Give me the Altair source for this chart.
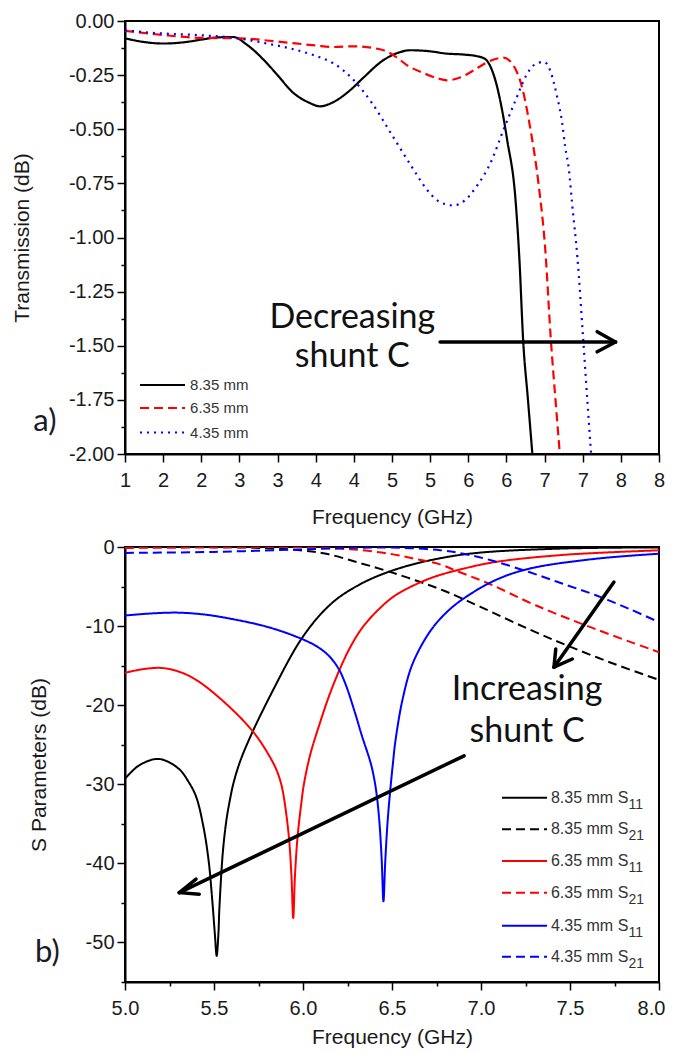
import altair as alt
import pandas as pd

# ---------------- Panel a) : Transmission (dB) vs Frequency (GHz) ----------------
a_series = ["8.35 mm", "6.35 mm", "4.35 mm"]

a_f_835 = [1.0, 1.25, 1.5, 1.8, 2.0, 2.2, 2.42, 2.6, 2.86, 3.0, 3.2, 3.4, 3.56, 3.7, 3.95, 4.13, 4.39,
           4.57, 4.74, 5.0, 5.2, 5.44, 5.62, 5.72, 5.79, 5.86, 5.92, 6.01, 6.12, 6.17, 6.22, 6.28, 6.34]
a_t_835 = [-0.080, -0.097, -0.104, -0.097, -0.086, -0.076, -0.074, -0.11, -0.195, -0.25, -0.33, -0.375,
           -0.394, -0.38, -0.32, -0.26, -0.18, -0.148, -0.135, -0.14, -0.15, -0.155, -0.163, -0.175,
           -0.21, -0.28, -0.37, -0.55, -0.83, -1.1, -1.48, -1.74, -2.0]

a_f_635 = [1.0, 1.5, 2.0, 2.5, 3.0, 3.5, 3.73, 4.0, 4.39, 4.55, 4.7, 4.91, 5.1, 5.22, 5.4, 5.57, 5.75,
           5.88, 5.96, 6.1, 6.2, 6.31, 6.42, 6.51, 6.58, 6.65, 6.70]
a_t_635 = [-0.045, -0.065, -0.078, -0.080, -0.095, -0.113, -0.12, -0.117, -0.135, -0.165, -0.205, -0.24,
           -0.265, -0.274, -0.26, -0.228, -0.19, -0.173, -0.169, -0.21, -0.30, -0.49, -0.75, -1.06,
           -1.46, -1.78, -2.0]

a_f_435 = [1.0, 1.33, 2.0, 2.42, 2.86, 3.17, 3.45, 3.6, 3.73, 4.0, 4.24, 4.5, 4.76, 4.96, 5.1, 5.3, 5.45,
           5.62, 5.79, 5.96, 6.12, 6.25, 6.36, 6.49, 6.58, 6.66, 6.73, 6.77, 6.82, 6.86, 6.93, 7.01,
           7.07, 7.11]
a_t_435 = [-0.043, -0.054, -0.066, -0.077, -0.104, -0.127, -0.155, -0.174, -0.195, -0.274, -0.38, -0.527,
           -0.674, -0.78, -0.83, -0.852, -0.83, -0.758, -0.657, -0.504, -0.366, -0.258, -0.204, -0.189,
           -0.235, -0.343, -0.47, -0.58, -0.69, -0.84, -1.09, -1.49, -1.8, -2.0]

# legend (panel a) rows, in data coordinates
a_leg_v = [-1.681, -1.787, -1.901]
a_leg_f = [1.197, 1.787]
a_leg_text_f = 1.853

# annotations (panel a)
a_text = ["Decreasing", "shunt C"]
a_text_f = [3.98, 3.98]
a_text_v = [-1.372, -1.553]
a_arrow_f = [5.13, 7.43, 7.43]
a_arrow_v = [-1.483, -1.483, -1.483]
a_arrow_f2 = [7.43, 7.19, 7.19]
a_arrow_v2 = [-1.483, -1.435, -1.528]
a_tag = ["a)"]
a_tag_f = [-0.05]
a_tag_v = [-1.852]

# ---------------- Panel b) : S Parameters (dB) vs Frequency (GHz) ----------------
b_sizes = ["8.35 mm", "6.35 mm", "4.35 mm"]

b_f_835_s11 = [5.0, 5.08, 5.19, 5.3, 5.36, 5.40, 5.44, 5.47, 5.49, 5.505, 5.515, 5.525, 5.53, 5.55, 5.57,
               5.59, 5.61, 5.65, 5.72, 5.78, 5.85, 5.92, 5.98, 6.05, 6.12, 6.2, 6.33, 6.45, 6.6, 6.8, 7.0,
               7.45, 8.0]
b_s_835_s11 = [-29.3, -27.6, -26.8, -28.0, -29.8, -31.6, -35.3, -39.7, -44.6, -49.0, -51.7, -48.8, -45.8,
               -38.5, -34.5, -31.9, -29.8, -26.9, -23.2, -20.4, -17.3, -14.3, -12.0, -9.8, -8.0, -6.4,
               -4.6, -3.4, -2.3, -1.3, -0.7, -0.2, -0.05]

b_f_635_s11 = [5.0, 5.1, 5.21, 5.32, 5.42, 5.6, 5.735, 5.83, 5.86, 5.88, 5.895, 5.92, 5.935, 5.945, 5.955,
               5.97, 5.99, 6.005, 6.04, 6.09, 6.147, 6.2, 6.26, 6.33, 6.42, 6.52, 6.71, 6.9, 7.08, 7.46, 8.0]
b_s_635_s11 = [-15.9, -15.45, -15.3, -15.9, -17.1, -20.5, -23.8, -27.2, -28.7, -30.2, -32.0, -36.5, -41.5,
               -46.9, -41.5, -36.5, -32.5, -30.0, -26.3, -22.6, -18.8, -15.8, -12.9, -10.3, -8.0, -6.1,
               -4.0, -2.75, -1.9, -1.0, -0.42]

b_f_435_s11 = [5.0, 5.15, 5.3, 5.45, 5.6, 5.8, 5.98, 6.08, 6.147, 6.2, 6.24, 6.29, 6.33, 6.38, 6.40, 6.415,
               6.43, 6.442, 6.452, 6.462, 6.475, 6.49, 6.505, 6.52, 6.56, 6.615, 6.71, 6.8, 6.9, 7.08, 7.27,
               7.64, 8.0]
b_s_435_s11 = [-8.66, -8.4, -8.3, -8.55, -9.1, -10.1, -11.5, -12.6, -13.8, -15.4, -17.4, -20.8, -23.8,
               -27.3, -29.3, -31.5, -35.0, -39.5, -44.8, -39.8, -34.8, -30.8, -27.4, -24.4, -19.2, -14.8,
               -10.8, -8.4, -6.55, -4.2, -2.75, -1.5, -0.85]

b_f_835_s21 = [5.0, 5.5, 5.8, 6.0, 6.13, 6.3, 6.46, 6.63, 6.8, 7.0, 7.27, 7.5, 7.75, 8.0]
b_s_835_s21 = [-0.03, -0.02, -0.15, -0.45, -0.85, -1.9, -2.95, -4.2, -5.6, -7.6, -10.4, -12.6, -14.8, -16.8]

b_f_635_s21 = [5.0, 5.5, 5.95, 6.2, 6.35, 6.5, 6.63, 6.77, 6.86, 7.046, 7.31, 7.64, 8.0]
b_s_635_s21 = [-0.12, -0.06, -0.02, -0.2, -0.45, -0.9, -1.5, -2.2, -3.0, -4.65, -7.4, -10.35, -13.3]

b_f_435_s21 = [5.0, 5.5, 6.0, 6.3, 6.45, 6.6, 6.77, 6.9, 7.06, 7.27, 7.46, 7.645, 7.83, 8.0]
b_s_435_s21 = [-0.75, -0.62, -0.3, -0.1, -0.05, -0.15, -0.4, -0.85, -1.7, -3.17, -4.65, -6.1, -7.8, -9.5]

# legend (panel b) rows, in data coordinates
b_leg_labels = ["8.35 mm S", "8.35 mm S", "6.35 mm S", "6.35 mm S", "4.35 mm S", "4.35 mm S"]
b_leg_subs = ["11", "21", "11", "21", "11", "21"]
b_leg_size = ["8.35 mm", "8.35 mm", "6.35 mm", "6.35 mm", "4.35 mm", "4.35 mm"]
b_leg_param = ["S11", "S21", "S11", "S21", "S11", "S21"]
b_leg_v = [-31.7, -35.7, -39.7, -43.7, -47.9, -51.8]
b_leg_f = [7.118, 7.371]
b_leg_text_f = 7.393
b_leg_sub_f = 7.828

# annotations (panel b)
b_text = ["Increasing", "shunt C"]
b_text_f = [7.259, 7.259]
b_text_v = [-18.1, -23.4]
b_arrow_f = [7.747, 7.41, 7.41, 6.905, 5.305, 5.305]
b_arrow_v = [-4.44, -15.2, -15.2, -26.4, -43.7, -43.7]
b_arrow_f2 = [7.41, 7.42, 7.513, 5.305, 5.399, 5.417]
b_arrow_v2 = [-15.2, -12.9, -14.16, -43.7, -42.0, -43.9]
b_tag = ["b)"]
b_tag_f = [4.564]
b_tag_v = [-51.3]

# ---------------- tables ----------------
a_rows = []
for name, fs, ts in zip(a_series, [a_f_835, a_f_635, a_f_435], [a_t_835, a_t_635, a_t_435]):
    for f, t in zip(fs, ts):
        a_rows.append({"series": name, "f": f, "v": t})
a_df = pd.DataFrame(a_rows)

a_leg_df = pd.DataFrame({"series": a_series, "v": a_leg_v, "f": [a_leg_f[0]] * 3, "f2": [a_leg_f[1]] * 3,
                         "ft": [a_leg_text_f] * 3})
a_text_df = pd.DataFrame({"label": a_text, "f": a_text_f, "v": a_text_v})
a_arrow_df = pd.DataFrame({"f": a_arrow_f, "v": a_arrow_v, "f2": a_arrow_f2, "v2": a_arrow_v2})
a_tag_df = pd.DataFrame({"label": a_tag, "f": a_tag_f, "v": a_tag_v})

b_rows = []
for size, param, fs, ss in [
    ("8.35 mm", "S11", b_f_835_s11, b_s_835_s11), ("8.35 mm", "S21", b_f_835_s21, b_s_835_s21),
    ("6.35 mm", "S11", b_f_635_s11, b_s_635_s11), ("6.35 mm", "S21", b_f_635_s21, b_s_635_s21),
    ("4.35 mm", "S11", b_f_435_s11, b_s_435_s11), ("4.35 mm", "S21", b_f_435_s21, b_s_435_s21),
]:
    for f, s in zip(fs, ss):
        b_rows.append({"size": size, "param": param, "f": f, "v": s})
b_df = pd.DataFrame(b_rows)

b_leg_df = pd.DataFrame({"size": b_leg_size, "param": b_leg_param, "label": b_leg_labels, "sub": b_leg_subs,
                         "v": b_leg_v, "f": [b_leg_f[0]] * 6, "f2": [b_leg_f[1]] * 6,
                         "ft": [b_leg_text_f] * 6, "fs": [b_leg_sub_f] * 6})
b_text_df = pd.DataFrame({"label": b_text, "f": b_text_f, "v": b_text_v})
b_arrow_df = pd.DataFrame({"f": b_arrow_f, "v": b_arrow_v, "f2": b_arrow_f2, "v2": b_arrow_v2})
b_tag_df = pd.DataFrame({"label": b_tag, "f": b_tag_f, "v": b_tag_v})

# ---------------- helpers ----------------
FONT = "Liberation Sans, Arial, sans-serif"
ANN_FONT = "Lato"
MINUS = "\u2212"


def make_axis(values, fmt, major_test, title, title_pad, label_pad=3, last_value=None):
    kw = {}
    if last_value is not None:
        kw["labelOffset"] = {"condition": {"test": f"datum.value >= {last_value}", "value": -8}, "value": 0}
    return alt.Axis(
        values=values, format=fmt, title=title, titlePadding=title_pad,
        labelExpr=f"({major_test}) ? replace(datum.label, '{MINUS}', '-') : ''",
        tickSize={"condition": {"test": major_test, "value": 8}, "value": 4},
        labelPadding=label_pad, **kw
    )


col_scale = alt.Scale(domain=a_series, range=["#000000", "#ff0000", "#0000ff"])

# ---- panel a ----
ax_vals = [1 + 0.5 * i for i in range(15)]
ay_vals = [-0.125 * i for i in range(17)]
ax_a = make_axis(ax_vals, ".0f", "abs(datum.value*2 - round(datum.value*2)) < 0.01", "Frequency (GHz)", 16,
                 label_pad=8)
ay_a = make_axis(ay_vals, ".2f", "abs(datum.value*4 - round(datum.value*4)) < 0.01", "Transmission (dB)", 36)
xs_a = alt.Scale(domain=[1, 8], nice=False, zero=False)
ys_a = alt.Scale(domain=[-2, 0], nice=False, zero=False)
X_a = alt.X("f:Q", scale=xs_a, axis=ax_a)
Y_a = alt.Y("v:Q", scale=ys_a, axis=ay_a)
dash_a = alt.Scale(domain=a_series, range=[[1, 0], [9, 5], [2, 5]])

a_lines = alt.Chart(a_df).mark_line(strokeWidth=2.2, interpolate="monotone", clip=True).encode(
    x=X_a, y=Y_a,
    color=alt.Color("series:N", scale=col_scale, legend=None),
    strokeDash=alt.StrokeDash("series:N", scale=dash_a, legend=None),
)
a_leg_lines = alt.Chart(a_leg_df).mark_rule(strokeWidth=2).encode(
    x=X_a, x2="f2:Q", y=Y_a,
    color=alt.Color("series:N", scale=col_scale, legend=None),
    strokeDash=alt.StrokeDash("series:N", scale=dash_a, legend=None),
)
a_leg_text = alt.Chart(a_leg_df).mark_text(align="left", baseline="middle", font=FONT, fontSize=15,
                                           color="#333333").encode(
    x=alt.X("ft:Q", scale=xs_a, axis=ax_a), y=Y_a, text="series:N")
a_ann_text = alt.Chart(a_text_df).mark_text(align="center", baseline="middle", font=ANN_FONT, fontSize=34,
                                            color="#111111").encode(x=X_a, y=Y_a, text="label:N")
a_arrow = alt.Chart(a_arrow_df).mark_rule(strokeWidth=3.5, color="black", strokeCap="round").encode(
    x=X_a, y=Y_a, x2="f2:Q", y2="v2:Q")
a_tag_text = alt.Chart(a_tag_df).mark_text(align="center", baseline="middle", font=ANN_FONT, fontSize=31,
                                           color="#1a1a2a").encode(x=X_a, y=Y_a, text="label:N")

top = alt.layer(a_lines, a_leg_lines, a_leg_text, a_ann_text, a_arrow, a_tag_text).properties(
    width=534, height=433)

# ---- panel b ----
bx_vals = [5 + 0.25 * i for i in range(13)]
by_vals = [-5 * i for i in range(12)]
ax_b = make_axis(bx_vals, ".1f", "abs(datum.value*2 - round(datum.value*2)) < 0.01", "Frequency (GHz)", 8,
                 label_pad=8, last_value=7.99)
ay_b = make_axis(by_vals, ".0f", "abs(datum.value/10 - round(datum.value/10)) < 0.01", "S Parameters (dB)", 36)
xs_b = alt.Scale(domain=[5, 8], nice=False, zero=False)
ys_b = alt.Scale(domain=[-55, 0], nice=False, zero=False)
X_b = alt.X("f:Q", scale=xs_b, axis=ax_b)
Y_b = alt.Y("v:Q", scale=ys_b, axis=ay_b)
size_scale = alt.Scale(domain=b_sizes, range=["#000000", "#ff0000", "#0000ff"])
dash_b = alt.Scale(domain=["S11", "S21"], range=[[1, 0], [8, 6]])

b_lines = alt.Chart(b_df).mark_line(strokeWidth=2, interpolate="catmull-rom", clip=True).encode(
    x=X_b, y=Y_b,
    color=alt.Color("size:N", scale=size_scale, legend=None),
    strokeDash=alt.StrokeDash("param:N", scale=dash_b, legend=None),
)
b_leg_lines = alt.Chart(b_leg_df).mark_rule(strokeWidth=2).encode(
    x=X_b, x2="f2:Q", y=Y_b,
    color=alt.Color("size:N", scale=size_scale, legend=None),
    strokeDash=alt.StrokeDash("param:N", scale=dash_b, legend=None),
)
b_leg_text = alt.Chart(b_leg_df).mark_text(align="left", baseline="middle", font=FONT, fontSize=16,
                                           color="#333333").encode(
    x=alt.X("ft:Q", scale=xs_b, axis=ax_b), y=Y_b, text="label:N")
b_leg_sub = alt.Chart(b_leg_df).mark_text(align="left", baseline="middle", font=FONT, fontSize=14, dy=7,
                                          color="#333333").encode(
    x=alt.X("fs:Q", scale=xs_b, axis=ax_b), y=Y_b, text="sub:N")
b_ann_text = alt.Chart(b_text_df).mark_text(align="center", baseline="middle", font=ANN_FONT, fontSize=34,
                                            color="#111111").encode(x=X_b, y=Y_b, text="label:N")
b_arrow = alt.Chart(b_arrow_df).mark_rule(strokeWidth=3.5, color="black", strokeCap="round").encode(
    x=X_b, y=Y_b, x2="f2:Q", y2="v2:Q")
b_tag_text = alt.Chart(b_tag_df).mark_text(align="center", baseline="middle", font=ANN_FONT, fontSize=31,
                                           color="#1a1a2a").encode(x=X_b, y=Y_b, text="label:N")

bottom = alt.layer(b_lines, b_leg_lines, b_leg_text, b_leg_sub, b_ann_text, b_arrow, b_tag_text).properties(
    width=534, height=435)

chart = alt.vconcat(top, bottom, spacing=8).properties(
    padding={"left": 2, "top": 2, "right": 0, "bottom": 0}
).configure_view(
    stroke="black", strokeWidth=2
).configure_axis(
    labelFont=FONT, titleFont=FONT, labelFontSize=20, titleFontSize=21, titleFontWeight="normal",
    labelColor="#1a1a1a", titleColor="#1a1a1a", domainColor="black", tickColor="black",
    domainWidth=2, tickWidth=1.5, grid=False, labelFlush=False, labelOverlap=False,
)

chart.save("out.html", embed_options={"renderer": "svg", "actions": False})
